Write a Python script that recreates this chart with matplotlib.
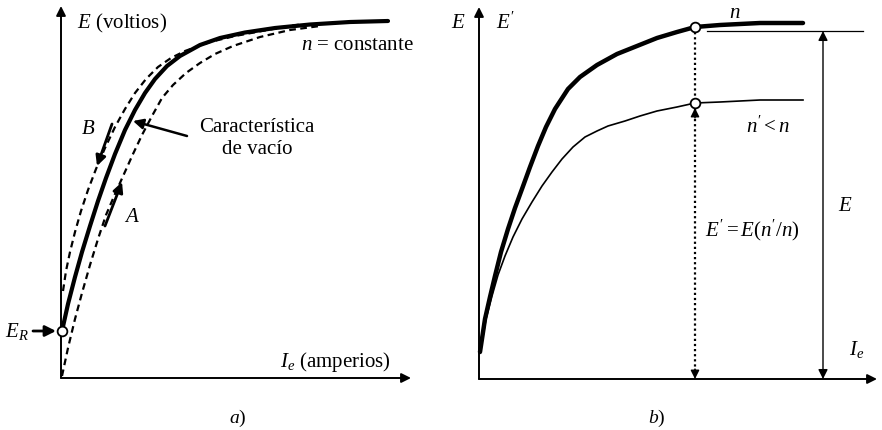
import matplotlib
matplotlib.use('Agg')
import matplotlib.pyplot as plt

plt.rcParams['font.family'] = ['Liberation Serif', 'DejaVu Serif']
plt.rcParams['mathtext.fontset'] = 'custom'
plt.rcParams['mathtext.rm'] = 'Liberation Serif'
plt.rcParams['mathtext.it'] = 'Liberation Serif:italic'

# a) open-circuit characteristic, n = const (Ie, E in drawing units)
vac_ie = [1, 7, 14, 21, 29, 37, 45, 54, 64, 74, 84, 94, 106, 119, 139, 159, 184, 214, 249, 289, 327]
vac_e = [47, 74, 101, 126, 152, 177, 200, 224, 248, 268, 285, 299, 312, 322, 333, 340, 345.5, 350, 353.5, 356, 357]

# descending branch B
desc_ie = [2, 5, 9, 14, 20, 27, 35, 44, 54, 64, 74, 85, 97, 110, 124, 149, 174, 201, 229, 239]
desc_e = [87, 107, 126, 146, 167, 188, 209, 230, 251, 269, 285, 299, 311, 320, 327, 336, 342, 347, 352, 353.5]

# ascending branch A
asc_ie = [1, 7, 14, 21, 29, 37, 45, 54, 63, 72, 81, 91, 101, 112, 125, 139, 154, 172, 199, 229, 259]
asc_e = [2, 30, 59, 85, 113, 139, 163, 184, 204, 224, 243, 262, 280, 293, 305, 315, 324, 332, 341, 348, 352]

# b) characteristic at speed n and at n' < n
n_ie = [1, 6, 11, 16, 22, 29, 36, 43, 51, 59, 67, 76, 89, 101, 118, 138, 158, 178, 198, 216, 241, 281, 324]
n_e = [27, 60, 82, 103, 127, 150, 171, 190, 212, 233, 252, 270, 290, 302, 314, 325, 333, 341, 347, 352, 354, 356, 356]
n2_ie = [1, 3, 7, 13, 19, 26, 34, 43, 53, 63, 73, 83, 94, 106, 118, 129, 146, 161, 178, 198, 216, 241, 281, 324]
n2_e = [27, 37, 60, 83, 104, 123, 142, 160, 177, 193, 207, 220, 232, 242, 248, 253, 258, 263, 268, 272, 276, 277, 279, 279]

er_value = 47
ie_point = 216
e_point = 352
e2_point = 276

fig = plt.figure(figsize=(8.82, 4.31), dpi=100)
ax1 = fig.add_axes([0, 0, 440 / 882, 1])
ax2 = fig.add_axes([440 / 882, 0, 442 / 882, 1])
ax1.set_xlim(-61, 379)
ax1.set_ylim(-52, 379)
ax2.set_xlim(-39, 403)
ax2.set_ylim(-51, 380)
for ax in (ax1, ax2):
    ax.axis('off')

head = dict(arrowstyle='-|>', color='black', lw=1.4, mutation_scale=14, shrinkA=0, shrinkB=0)
thin_head = dict(arrowstyle='-|>', color='black', lw=1.0, mutation_scale=13, shrinkA=0, shrinkB=0)
fs = 15

# ---- panel a)
ax1.annotate('', xy=(0, 372), xytext=(0, 0), arrowprops=head)
ax1.annotate('', xy=(350, 0), xytext=(0, 0), arrowprops=head)

ax1.plot(desc_ie, desc_e, color='black', lw=1.6, ls=(0, (3, 2)))
ax1.plot(asc_ie, asc_e, color='black', lw=1.6, ls=(0, (3, 2)))
ax1.plot(vac_ie, vac_e, color='black', lw=3.0, solid_capstyle='round', solid_joinstyle='round')
ax1.plot([1], [er_value], 'o', ms=7, mfc='white', mec='black', mew=1.3, zorder=5)

ax1.annotate('', xy=(-5, er_value), xytext=(-28, er_value),
             arrowprops=dict(head, lw=2.0, mutation_scale=16))
ax1.text(-44, er_value, r'$E_R$', fontsize=fs, ha='center', va='center')

ax1.annotate('', xy=(36, 212), xytext=(51, 254), arrowprops=dict(head, lw=2.0, mutation_scale=15))
ax1.annotate('', xy=(61, 196), xytext=(44, 152), arrowprops=dict(head, lw=2.0, mutation_scale=15))
ax1.annotate('', xy=(72, 257), xytext=(126, 242), arrowprops=dict(head, lw=1.8, mutation_scale=15))

ax1.text(27, 249, r'$B$', fontsize=fs, ha='center', va='center')
ax1.text(71, 161, r'$A$', fontsize=fs, ha='center', va='center')
ax1.text(196, 252, 'Característica', fontsize=fs, ha='center', va='center')
ax1.text(196, 229, 'de vacío', fontsize=fs, ha='center', va='center')
ax1.text(16, 356, r'$E$ (voltios)', fontsize=fs, ha='left', va='center')
ax1.text(296, 334, r'$n$ = constante', fontsize=fs, ha='center', va='center')
ax1.text(219, 17, r'$I_e$ (amperios)', fontsize=fs, ha='left', va='center')
ax1.text(177, -39, r'$a$)', fontsize=14, ha='center', va='center')

# ---- panel b)
ax2.annotate('', xy=(0, 372), xytext=(0, 0), arrowprops=head)
ax2.annotate('', xy=(398, 0), xytext=(0, 0), arrowprops=head)

ax2.plot(n_ie, n_e, color='black', lw=3.2, solid_capstyle='round', solid_joinstyle='round')
ax2.plot(n2_ie, n2_e, color='black', lw=1.2, solid_joinstyle='round')

# reference level E and its dimension arrow
ax2.plot([228, 384], [348, 348], color='black', lw=0.9)
ax2.annotate('', xy=(344, 348), xytext=(344, 0),
             arrowprops=dict(arrowstyle='<|-|>', color='black', lw=1.0,
                             mutation_scale=14, shrinkA=0, shrinkB=0))

# dotted projection between the two curves and down to the axis
ax2.plot([ie_point, ie_point], [e_point, 8], color='black', lw=1.6, ls=(0, (1, 1.3)))
ax2.annotate('', xy=(ie_point, e2_point - 5), xytext=(ie_point, e2_point - 15), arrowprops=thin_head)
ax2.annotate('', xy=(ie_point, 0), xytext=(ie_point, 10), arrowprops=thin_head)
ax2.plot([ie_point, ie_point], [e_point, e2_point], 'o', ms=7, mfc='white', mec='black', mew=1.3, zorder=5)

ax2.text(-21, 357, r'$E$', fontsize=fs, ha='center', va='center')
ax2.text(26, 357, r"$E'$", fontsize=fs, ha='center', va='center')
ax2.text(256, 366, r'$n$', fontsize=fs, ha='center', va='center')
ax2.text(289, 253, r"$n' < n$", fontsize=fs, ha='center', va='center')
ax2.text(273, 150, r"$E' = E(n'/n)$", fontsize=fs, ha='center', va='center')
ax2.text(366, 173, r'$E$', fontsize=fs, ha='center', va='center')
ax2.text(378, 30, r'$I_e$', fontsize=fs, ha='center', va='center')
ax2.text(178, -38, r'$b$)', fontsize=14, ha='center', va='center')

fig.savefig('out.png', dpi=100)
